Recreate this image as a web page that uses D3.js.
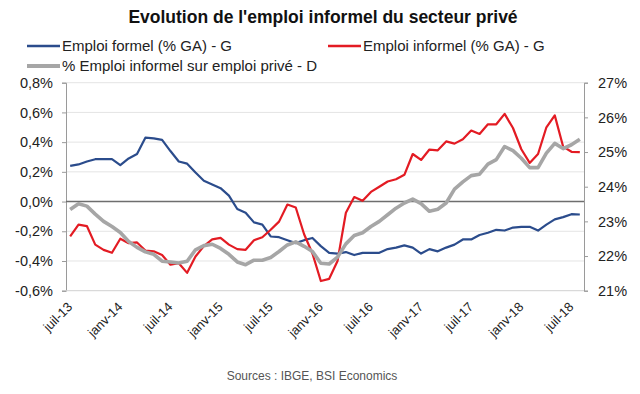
<!DOCTYPE html>
<html><head><meta charset="utf-8">
<script src="https://cdn.jsdelivr.net/npm/d3@7"></script>
<style>html,body{margin:0;padding:0;background:#fff;}svg{display:block;font-family:"Liberation Sans",Arial,sans-serif;}</style>
</head><body>
<svg id="chart" width="640" height="394"></svg>
<script>
const title = "Evolution de l'emploi informel du secteur privé";
const source = "Sources : IBGE, BSI Economics";
const categories = [
 "juil-13","août-13","sept-13","oct-13","nov-13","déc-13",
 "janv-14","févr-14","mars-14","avr-14","mai-14","juin-14","juil-14","août-14","sept-14","oct-14","nov-14","déc-14",
 "janv-15","févr-15","mars-15","avr-15","mai-15","juin-15","juil-15","août-15","sept-15","oct-15","nov-15","déc-15",
 "janv-16","févr-16","mars-16","avr-16","mai-16","juin-16","juil-16","août-16","sept-16","oct-16","nov-16","déc-16",
 "janv-17","févr-17","mars-17","avr-17","mai-17","juin-17","juil-17","août-17","sept-17","oct-17","nov-17","déc-17",
 "janv-18","févr-18","mars-18","avr-18","mai-18","juin-18","juil-18","août-18"];
const xTickLabels = ["juil-13","janv-14","juil-14","janv-15","juil-15","janv-16","juil-16","janv-17","juil-17","janv-18","juil-18"];
const leftTicks = [-0.6,-0.4,-0.2,0,0.2,0.4,0.6,0.8];
const rightTicks = [21,22,23,24,25,26,27];
const seriesNames = ["Emploi formel (% GA) - G","Emploi informel (% GA) - G","% Emploi informel sur emploi privé - D"];
// % GA, left axis
const formel = [0.24,0.25,0.27,0.285,0.285,0.285,0.245,0.29,0.32,0.43,0.425,0.415,0.34,0.27,0.255,0.195,
 0.14,0.115,0.09,0.04,-0.05,-0.075,-0.14,-0.155,-0.235,-0.24,-0.26,-0.28,-0.26,-0.245,-0.30,-0.345,
 -0.35,-0.34,-0.36,-0.345,-0.345,-0.345,-0.32,-0.31,-0.295,-0.31,-0.35,-0.32,-0.335,-0.31,-0.29,-0.255,
 -0.255,-0.225,-0.21,-0.19,-0.195,-0.175,-0.17,-0.17,-0.195,-0.155,-0.12,-0.105,-0.085,-0.087];
const informel = [-0.235,-0.155,-0.165,-0.29,-0.325,-0.345,-0.25,-0.28,-0.275,-0.33,-0.335,-0.36,-0.425,-0.415,-0.48,-0.37,
 -0.30,-0.255,-0.245,-0.29,-0.32,-0.325,-0.26,-0.24,-0.19,-0.135,-0.02,-0.04,-0.22,-0.35,-0.535,-0.52,
 -0.40,-0.075,0.03,0.005,0.065,0.10,0.135,0.15,0.18,0.32,0.28,0.35,0.345,0.405,0.39,0.42,
 0.478,0.455,0.52,0.52,0.59,0.495,0.352,0.26,0.32,0.50,0.58,0.37,0.335,0.333];
// % of private employment, right axis
const part = [23.34,23.51,23.44,23.21,23.0,22.85,22.68,22.42,22.25,22.12,22.05,21.85,21.83,21.8,21.85,22.18,
 22.3,22.34,22.22,22.05,21.83,21.75,21.88,21.88,21.96,22.13,22.32,22.41,22.28,22.13,21.79,21.77,
 21.97,22.35,22.59,22.67,22.85,23.0,23.19,23.38,23.53,23.64,23.51,23.29,23.35,23.53,23.93,24.14,
 24.32,24.36,24.65,24.78,25.16,25.04,24.82,24.55,24.55,24.97,25.25,25.1,25.21,25.37];

const colors = ["#2B4C8C","#E31B23","#A6A6A6"];
const widths = [2.2,2.2,3.6];

const svg = d3.select("#chart");
svg.append("rect").attr("width",640).attr("height",394).attr("fill","#fff");
const L = 66, R = 584, T = 82.7, B = 290.7;
const x = d3.scaleBand().domain(categories).range([L, R]);
const cx = c => x(c) + x.bandwidth()/2;
const yL = d3.scaleLinear().domain([-0.6, 0.8]).range([B, T]);
const yR = d3.scaleLinear().domain([21, 27]).range([B, T]);
const loc = d3.formatLocale({decimal:",",thousands:" ",grouping:[3],currency:["","€"],minus:"-"});
const f1 = loc.format(".1f");
const fL = d => f1(d) + "%";
const fR = d => d + "%";

// grid
svg.append("g").selectAll("line").data(leftTicks.filter(v=>v!==0 && v!==-0.6)).join("line")
  .attr("x1",L).attr("x2",R).attr("y1",d=>yL(d)).attr("y2",d=>yL(d))
  .attr("stroke","#E4E4E4").attr("stroke-width",1);

// left axis
const gl = svg.append("g").attr("transform",`translate(${L},0)`)
  .call(d3.axisLeft(yL).tickValues(leftTicks).tickFormat(fL).tickSize(4).tickPadding(9));
gl.select(".domain").attr("stroke","#9A9A9A");
gl.selectAll(".tick line").attr("stroke","#9A9A9A");
gl.selectAll(".tick text").attr("font-size","14.5px").attr("fill","#222").attr("font-family","Liberation Sans, Arial, sans-serif");

// right axis
const gr = svg.append("g").attr("transform",`translate(${R},0)`)
  .call(d3.axisRight(yR).tickValues(rightTicks).tickFormat(fR).tickSize(4).tickPadding(10));
gr.select(".domain").attr("stroke","#9A9A9A");
gr.selectAll(".tick line").attr("stroke","#9A9A9A");
gr.selectAll(".tick text").attr("font-size","14.5px").attr("fill","#222").attr("font-family","Liberation Sans, Arial, sans-serif");

// bottom axis line
svg.append("line").attr("x1",L).attr("x2",R).attr("y1",B).attr("y2",B).attr("stroke","#D0D0D0");

// x labels
const xa = svg.append("g").attr("transform",`translate(0,${B})`)
  .call(d3.axisBottom(x).tickValues(xTickLabels).tickSize(0).tickPadding(0));
xa.select(".domain").remove();
xa.selectAll(".tick text")
  .attr("font-size","13px").attr("fill","#222").attr("font-family","Liberation Sans, Arial, sans-serif")
  .attr("text-anchor","end").attr("dy",null).attr("y",0)
  .attr("transform","translate(3,17) rotate(-45)");

// zero line
svg.append("line").attr("x1",L).attr("x2",R).attr("y1",yL(0)).attr("y2",yL(0))
  .attr("stroke","#6E6E6E").attr("stroke-width",1.5);

// series
const lineL = d3.line().x((d,i)=>cx(categories[i])).y(d=>yL(d));
const lineR = d3.line().x((d,i)=>cx(categories[i])).y(d=>yR(d));
const series = [[formel,lineL],[informel,lineL],[part,lineR]];
series.forEach(([data,gen],k)=>{
  svg.append("path").datum(data).attr("d",gen).attr("fill","none")
    .attr("stroke",colors[k]).attr("stroke-width",widths[k]).attr("stroke-linejoin","round");
});

// title
svg.append("text").attr("x",323).attr("y",23).attr("text-anchor","middle")
  .attr("font-size","17.5px").attr("font-weight","bold").attr("fill","#111").text(title);

// legend
const leg = [{k:0,x:27,y:46},{k:1,x:328,y:46},{k:2,x:27,y:66}];
leg.forEach(o=>{
  svg.append("line").attr("x1",o.x).attr("x2",o.x+33).attr("y1",o.y).attr("y2",o.y)
    .attr("stroke",colors[o.k]).attr("stroke-width",o.k===2?4:2.5);
  svg.append("text").attr("x",o.x+35).attr("y",o.y+5).attr("font-size","15px").attr("fill","#222")
    .text(seriesNames[o.k]);
});

// source
svg.append("text").attr("x",312).attr("y",380).attr("text-anchor","middle")
  .attr("font-size","12px").attr("fill","#555").text(source);
</script>
</body></html>
